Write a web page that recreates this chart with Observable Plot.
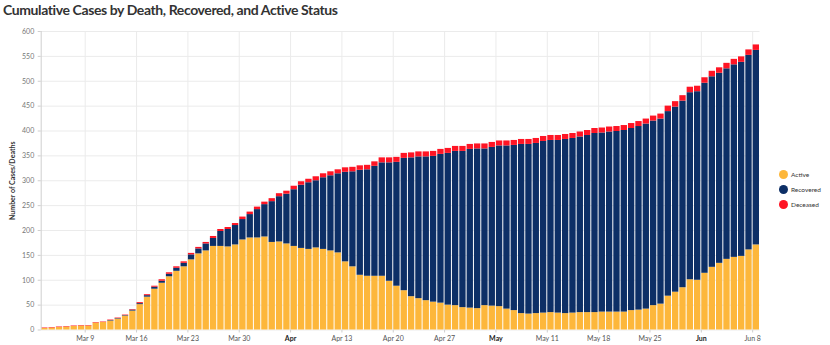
<!DOCTYPE html>
<html>
<head>
<meta charset="utf-8">
<script src="https://cdn.jsdelivr.net/npm/d3@7"></script>
<script src="https://cdn.jsdelivr.net/npm/@observablehq/plot@0.6"></script>
<style>
  body { margin: 0; background: #fff; font-family: Lato, "Open Sans", sans-serif; }
  #wrap { position: relative; width: 830px; height: 345px; overflow: hidden; }
  #title { height: 20px; line-height: 19px; font-size: 14px; letter-spacing: -0.4px; font-weight: 700; color: #333; padding-left: 3px; white-space: nowrap; }
  #legend { position: absolute; left: 779px; top: 167px; font-size: 6.5px; color: #333; }
  .item { display: flex; align-items: center; height: 15px; }
  .dot { width: 9px; height: 9px; border-radius: 50%; margin-right: 3px; }
</style>
</head>
<body>
<div id="wrap">
  <div id="title">Cumulative Cases by Death, Recovered, and Active Status</div>
  <div id="chart"></div>
  <div id="legend"></div>
</div>
<script>
const dates = [
  "2020-03-03","2020-03-04","2020-03-05","2020-03-06","2020-03-07","2020-03-08","2020-03-09","2020-03-10","2020-03-11","2020-03-12",
  "2020-03-13","2020-03-14","2020-03-15","2020-03-16","2020-03-17","2020-03-18","2020-03-19","2020-03-20","2020-03-21","2020-03-22",
  "2020-03-23","2020-03-24","2020-03-25","2020-03-26","2020-03-27","2020-03-28","2020-03-29","2020-03-30","2020-03-31","2020-04-01",
  "2020-04-02","2020-04-03","2020-04-04","2020-04-05","2020-04-06","2020-04-07","2020-04-08","2020-04-09","2020-04-10","2020-04-11",
  "2020-04-12","2020-04-13","2020-04-14","2020-04-15","2020-04-16","2020-04-17","2020-04-18","2020-04-19","2020-04-20","2020-04-21",
  "2020-04-22","2020-04-23","2020-04-24","2020-04-25","2020-04-26","2020-04-27","2020-04-28","2020-04-29","2020-04-30","2020-05-01",
  "2020-05-02","2020-05-03","2020-05-04","2020-05-05","2020-05-06","2020-05-07","2020-05-08","2020-05-09","2020-05-10","2020-05-11",
  "2020-05-12","2020-05-13","2020-05-14","2020-05-15","2020-05-16","2020-05-17","2020-05-18","2020-05-19","2020-05-20","2020-05-21",
  "2020-05-22","2020-05-23","2020-05-24","2020-05-25","2020-05-26","2020-05-27","2020-05-28","2020-05-29","2020-05-30","2020-05-31",
  "2020-06-01","2020-06-02","2020-06-03","2020-06-04","2020-06-05","2020-06-06","2020-06-07","2020-06-08"
];
const active = [
  3,4,5,6,7,8,8,14,15,18,
  22,28,38,51,66,82,94,107,118,127,
  141,153,159,168,168,167,171,181,185,185,
  187,176,177,173,168,164,162,165,162,159,
  155,137,127,110,108,108,108,98,88,79,
  67,63,59,56,54,50,49,45,44,43,
  49,48,47,42,39,33,32,33,34,35,
  34,33,34,35,35,35,36,36,36,36,
  39,40,42,49,52,68,76,85,101,100,
  114,126,134,142,146,148,161,171
];
const recovered = [
  0,0,0,0,0,0,0,0,0,1,
  1,1,2,2,3,4,4,5,6,7,
  10,10,14,16,30,35,39,41,47,57,
  65,82,91,100,114,127,134,135,144,151,
  159,180,191,211,214,221,228,238,249,266,
  279,285,289,293,299,305,310,314,319,321,
  315,319,323,328,332,340,341,342,345,346,
  347,350,351,353,356,360,360,362,363,365,
  366,369,372,371,372,371,372,375,376,379,
  382,383,382,383,387,390,391,391
];
const deceased = [
  1,1,1,1,1,1,1,1,1,1,
  1,1,1,2,2,2,3,3,3,3,
  3,3,3,4,4,4,4,5,5,5,
  5,6,6,6,7,7,7,8,8,8,
  8,9,9,9,9,9,10,10,10,10,
  10,10,10,10,10,10,10,10,10,10,
  10,10,10,10,10,10,10,10,10,10,
  10,10,10,10,10,10,10,10,10,10,
  10,10,10,10,10,11,11,11,11,11,
  11,11,11,11,11,11,11,11
];
const statuses = ["Active", "Recovered", "Deceased"];
const colors = ["#FDB73B", "#0D2F66", "#FF1424"];
const yTicks = [0,50,100,150,200,250,300,350,400,450,500,550,600];
const tickDates = ["2020-03-09","2020-03-16","2020-03-23","2020-03-30","2020-04-06","2020-04-13","2020-04-20","2020-04-27","2020-05-04","2020-05-11","2020-05-18","2020-05-25","2020-06-01","2020-06-08"];
const tickLabels = ["Mar 9","Mar 16","Mar 23","Mar 30","Apr","Apr 13","Apr 20","Apr 27","May","May 11","May 18","May 25","Jun","Jun 8"];
const boldLabels = ["Apr","May","Jun"];

const parse = d3.utcParse("%Y-%m-%d");
const series = [active, recovered, deceased];
const rows = [];
dates.forEach((d, i) => {
  const date = parse(d);
  const end = d3.utcDay.offset(date, 1);
  statuses.forEach((s, k) => rows.push({date, end, status: s, value: series[k][i]}));
});
const ticks = tickDates.map(parse);
const labelOf = new Map(ticks.map((t, i) => [+t, tickLabels[i]]));
const regularTicks = ticks.filter((t, i) => !boldLabels.includes(tickLabels[i]));
const boldTicks = ticks.filter((t, i) => boldLabels.includes(tickLabels[i]));
const start = parse(dates[0]);
const stop = d3.utcDay.offset(parse(dates[dates.length - 1]), 1);

const chart = Plot.plot({
  width: 830,
  height: 325,
  marginTop: 11,
  marginBottom: 15.5,
  marginLeft: 40.7,
  marginRight: 70.5,
  style: {fontFamily: "Lato, sans-serif", fontSize: "7px", background: "#fff", color: "#666"},
  x: {type: "utc", domain: [start, stop]},
  y: {domain: [0, 600]},
  color: {domain: statuses, range: colors},
  marks: [
    Plot.gridY(yTicks, {stroke: "#ebebeb", strokeOpacity: 1}),
    Plot.gridX(ticks, {stroke: "#ebebeb", strokeOpacity: 1}),
    Plot.rectY(rows, Plot.stackY({x1: "date", x2: "end", y: "value", z: "status", fill: "status", insetLeft: 0.5, insetRight: 0.5})),
    Plot.ruleX([start], {stroke: "#cfcfcf"}),
    Plot.axisY(yTicks, {tickSize: 3, tickPadding: 4, stroke: "#cfcfcf", fill: "#777", label: null}),
    Plot.axisX(regularTicks, {tickSize: 3, tickPadding: 3, tickFormat: d => labelOf.get(+d), stroke: "#cfcfcf", fill: "#555", label: null}),
    Plot.axisX(boldTicks, {tickSize: 3, tickPadding: 3, tickFormat: d => labelOf.get(+d), stroke: "#cfcfcf", fill: "#222", fontWeight: "bold", label: null}),
    Plot.text(["Number of Cases/Deaths"], {frameAnchor: "left", rotate: -90, dx: -28, textAnchor: "middle", fontWeight: "bold", fill: "#333"})
  ]
});
document.getElementById("chart").appendChild(chart);

const legend = d3.select("#legend");
statuses.forEach((s, i) => {
  const item = legend.append("div").attr("class", "item");
  item.append("div").attr("class", "dot").style("background", colors[i]);
  item.append("span").text(s);
});
</script>
</body>
</html>
